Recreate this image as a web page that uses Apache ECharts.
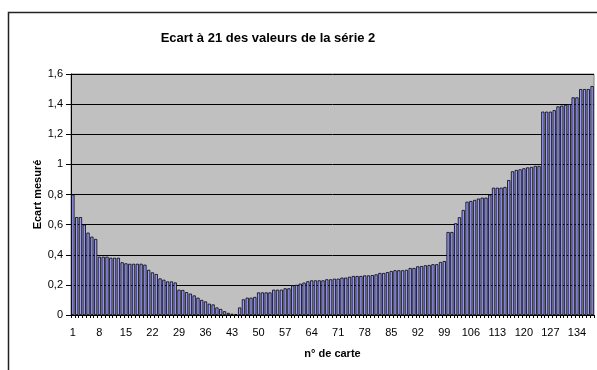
<!DOCTYPE html>
<html>
<head>
<meta charset="utf-8">
<script src="https://cdn.jsdelivr.net/npm/echarts@6/dist/echarts.min.js"></script>
<style>
  html, body { margin: 0; padding: 0; background: #fff; }
  #chart { width: 597px; height: 370px; }
</style>
</head>
<body>
<div id="chart"></div>
<script>
// Card numbers 1..138 along the category axis
const cardNumbers = Array.from({ length: 138 }, (_, i) => String(i + 1));

// Measured deviation from 21 for each card, in card order
const ecartMesure = [
  0.80, 0.65, 0.65, 0.60, 0.547, 0.52, 0.505, 0.387, 0.387, 0.387,
  0.38, 0.38, 0.38, 0.35, 0.343, 0.34, 0.34, 0.34, 0.34, 0.334,
  0.30, 0.283, 0.272, 0.243, 0.234, 0.223, 0.223, 0.216, 0.168, 0.166,
  0.152, 0.142, 0.13, 0.115, 0.10, 0.09, 0.075, 0.07, 0.05, 0.04,
  0.025, 0.014, 0.008, 0.006, 0.05, 0.104, 0.115, 0.115, 0.12, 0.15,
  0.15, 0.15, 0.15, 0.168, 0.168, 0.168, 0.177, 0.177, 0.197, 0.20,
  0.208, 0.215, 0.224, 0.23, 0.23, 0.23, 0.23, 0.237, 0.237, 0.241,
  0.241, 0.248, 0.248, 0.254, 0.259, 0.259, 0.259, 0.263, 0.263, 0.265,
  0.27, 0.279, 0.279, 0.285, 0.292, 0.297, 0.297, 0.297, 0.30, 0.312,
  0.312, 0.323, 0.325, 0.33, 0.332, 0.337, 0.337, 0.352, 0.358, 0.551,
  0.551, 0.609, 0.649, 0.697, 0.752, 0.757, 0.764, 0.773, 0.779, 0.779,
  0.799, 0.845, 0.845, 0.845, 0.85, 0.896, 0.954, 0.963, 0.967, 0.974,
  0.98, 0.983, 0.99, 0.99, 1.35, 1.35, 1.35, 1.36, 1.385, 1.39,
  1.395, 1.40, 1.445, 1.445, 1.50, 1.50, 1.50, 1.52
];

// Value-axis ticks
const yTicks = { min: 0, max: 1.6, step: 0.2 };

const chartTitle = 'Ecart à 21 des valeurs de la série 2';
const xAxisName = 'n° de carte';
const yAxisName = 'Ecart mesuré';

const chart = echarts.init(document.getElementById('chart'), null, { renderer: 'canvas' });

const font = 'Liberation Sans, Arial, sans-serif';

chart.setOption({
  animation: false,
  backgroundColor: '#ffffff',
  textStyle: { fontFamily: font },
  title: {
    text: chartTitle,
    left: 263,
    top: 27,
    textAlign: 'center',
    textStyle: { fontSize: 13, fontWeight: 'bold', color: '#000', fontFamily: font }
  },
  graphic: [{
    type: 'rect',
    silent: true,
    z: -1,
    shape: { x: 8.5, y: 12.5, width: 700, height: 500 },
    style: { fill: 'none', stroke: '#222', lineWidth: 1.5 }
  }],
  grid: {
    left: 71, right: 3, top: 74, bottom: 55,
    show: true,
    backgroundColor: '#C0C0C0',
    borderColor: '#808080',
    borderWidth: 1
  },
  xAxis: {
    type: 'category',
    data: cardNumbers,
    name: xAxisName,
    nameLocation: 'middle',
    nameGap: 33,
    nameMoveOverlap: false,
    nameTextStyle: { fontSize: 11, fontWeight: 'bold', color: '#000', fontFamily: font },
    axisLine: { lineStyle: { color: '#000', width: 1 } },
    axisTick: { show: true, interval: 0, length: 3, lineStyle: { color: '#000' } },
    axisLabel: { interval: 6, margin: 12, fontSize: 11, color: '#000', fontFamily: font },
    splitLine: { show: false }
  },
  yAxis: {
    type: 'value',
    min: yTicks.min,
    max: yTicks.max,
    interval: yTicks.step,
    name: yAxisName,
    nameLocation: 'middle',
    nameRotate: 90,
    nameGap: 28,
    nameMoveOverlap: false,
    nameTextStyle: { fontSize: 11, fontWeight: 'bold', color: '#000', fontFamily: font },
    axisLine: { show: true, lineStyle: { color: '#000', width: 1 } },
    axisTick: { show: true, length: 5, lineStyle: { color: '#000' } },
    axisLabel: {
      margin: 8,
      fontSize: 11,
      color: '#000',
      fontFamily: font,
      formatter: v => String(+v.toFixed(1)).replace('.', ',')
    },
    splitLine: { show: true, lineStyle: { color: '#000', width: 1 } }
  },
  series: [{
    type: 'bar',
    data: ecartMesure,
    barCategoryGap: '15%',
    itemStyle: { color: '#9999FF', borderColor: '#000', borderWidth: 0.8 }
  }]
});
</script>
</body>
</html>
